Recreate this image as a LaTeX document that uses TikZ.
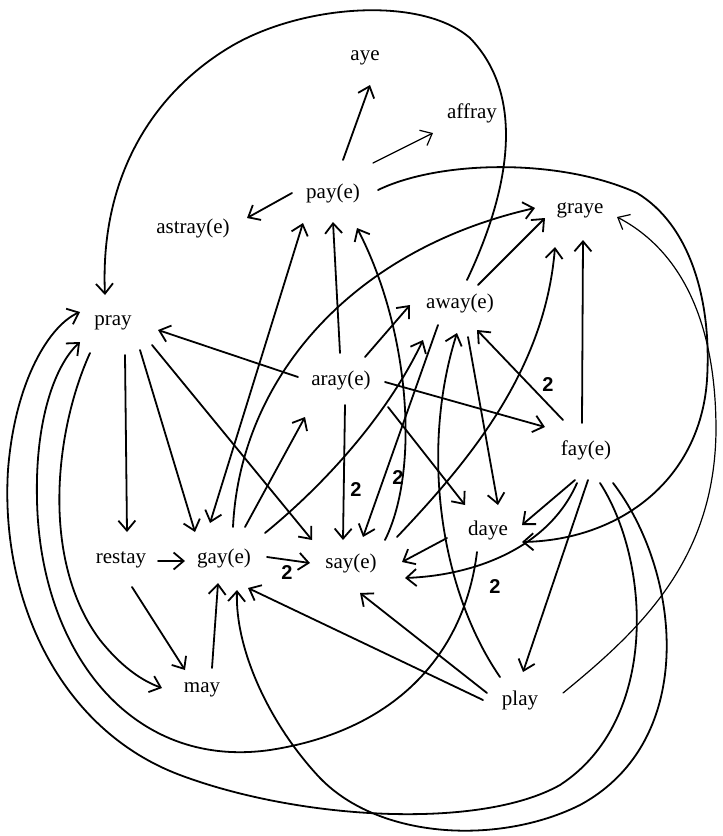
\documentclass[tikz,border=0pt]{standalone}
\usepackage{fontspec}
\setmainfont{Liberation Serif}
\newfontfamily\numfont{Liberation Sans}
\usetikzlibrary{arrows.meta}
\tikzset{
  lbl/.style={font=\fontsize{21}{24}\selectfont, inner sep=0pt},
  edge/.style={line width=1.8pt, line cap=round, -{Straight Barb[length=10pt,width=17pt]}},
  dbl/.style={line width=1.8pt, line cap=round, {Straight Barb[length=10pt,width=17pt]}-{Straight Barb[length=10pt,width=17pt]}},
  thinline/.style={line width=1.2pt},
  two/.style={font=\numfont\bfseries\fontsize{20}{22}\selectfont, inner sep=0pt}
}
\begin{document}
\begin{tikzpicture}[x=1pt,y=-1pt]
\useasboundingbox (0,0) rectangle (723,836);
% nodes
\node[lbl] (aye) at (365,58) {aye};
\node[lbl] (affray) at (472,113) {affray};
\node[lbl] (pay) at (333,193) {pay(e)};
\node[lbl] (astray) at (193,228) {astray(e)};
\node[lbl] (graye) at (580,210) {graye};
\node[lbl] (pray) at (113,323) {pray};
\node[lbl] (away) at (460,303) {away(e)};
\node[lbl] (aray) at (341,380) {aray(e)};
\node[lbl] (fay) at (586,450) {fay(e)};
\node[lbl] (daye) at (488,530) {daye};
\node[lbl] (say) at (351,563) {say(e)};
\node[lbl] (gay) at (224,558) {gay(e)};
\node[lbl] (restay) at (121,560) {restay};
\node[lbl] (may) at (202,690) {may};
\node[lbl] (play) at (520,700) {play};
% pay
\draw[edge] ([shift={(10,-33)}]pay.center) -- ([shift={(5,27)}]aye.center);
\draw[edge,thinline] ([shift={(40,-30)}]pay.center) -- ([shift={(-39,20)}]affray.center);
\draw[edge] ([shift={(-41,0)}]pay.center) -- ([shift={(54,-10)}]astray.center);
\draw[dbl] ([shift={(-14,-35)}]gay.center) -- ([shift={(-30,30)}]pay.center);
\draw[edge] ([shift={(45,-3)}]pay.center) .. controls (440,160) and (560,158) .. (637,193)
  .. controls (690,225) and (712,300) .. (707,380)
  .. controls (700,480) and (620,540) .. ([shift={(34,12)}]daye.center);
% away -> pray big arc
\draw[edge] ([shift={(7,-23)}]away.center) .. controls (505,200) and (530,100) .. (470,38)
  .. controls (420,-5) and (300,5) .. (230,47)
  .. controls (150,95) and (100,180) .. ([shift={(-8,-28)}]pray.center);
% pray
\draw[edge] ([shift={(12,32)}]pray.center) -- ([shift={(6,-28)}]restay.center);
\draw[edge] ([shift={(27,27)}]pray.center) -- ([shift={(-29,-26)}]gay.center);
\draw[edge] ([shift={(39,22)}]pray.center) -- ([shift={(-39,-23)}]say.center);
\draw[edge] ([shift={(-23,30)}]pray.center) .. controls (55,430) and (40,560) .. (100,640)
  .. controls (120,665) and (140,680) .. ([shift={(-40,-2)}]may.center);
% daye -> pray
\draw[edge] ([shift={(-11,22)}]daye.center) .. controls (465,650) and (400,730) .. (270,750)
  .. controls (130,770) and (40,650) .. (37,500)
  .. controls (35,420) and (55,365) .. ([shift={(-33,19)}]pray.center);
% fay -> pray
\draw[edge] ([shift={(14,33)}]fay.center) .. controls (650,560) and (660,720) .. (560,785)
  .. controls (480,830) and (300,820) .. (180,775)
  .. controls (60,730) and (0,600) .. (8,470)
  .. controls (15,380) and (50,325) .. ([shift={(-33,-11)}]pray.center);
% fay -> gay
\draw[edge] ([shift={(27,33)}]fay.center) .. controls (680,570) and (700,740) .. (580,805)
  .. controls (500,845) and (380,840) .. (320,778)
  .. controls (270,725) and (235,650) .. ([shift={(13,32)}]gay.center);
% play
\draw[edge,thinline] ([shift={(43,-7)}]play.center) .. controls (640,630) and (715,560) .. (716,430)
  .. controls (716,320) and (680,250) .. ([shift={(37,7)}]graye.center);
\draw[edge] ([shift={(-20,-23)}]play.center) .. controls (440,590) and (420,450) .. ([shift={(-3,30)}]away.center);
\draw[edge] ([shift={(-33,-7)}]play.center) -- ([shift={(9,30)}]say.center);
\draw[edge] ([shift={(-37,0)}]play.center) -- ([shift={(24,30)}]gay.center);
% fay
\draw[edge] ([shift={(2,30)}]fay.center) -- ([shift={(3,-28)}]play.center);
\draw[edge] ([shift={(-11,30)}]fay.center) -- ([shift={(34,-5)}]daye.center);
\draw[edge] ([shift={(-9,33)}]fay.center) .. controls (550,545) and (480,575) .. ([shift={(54,15)}]say.center);
\node[two] (t5) at (495,587) {2};
\draw[edge] ([shift={(-23,-30)}]fay.center) -- ([shift={(17,27)}]away.center);
\node[two] (t4) at (548,385) {2};
\draw[edge] ([shift={(-4,-27)}]fay.center) -- ([shift={(3,30)}]graye.center);
% daye
\draw[edge] ([shift={(-41,8)}]daye.center) -- ([shift={(51,-1)}]say.center);
% away
\draw[edge] ([shift={(8,34)}]away.center) -- ([shift={(10,-25)}]daye.center);
\draw[edge] ([shift={(18,-18)}]away.center) -- ([shift={(-35,8)}]graye.center);
\draw[edge] ([shift={(-22,22)}]away.center) -- ([shift={(12,-26)}]say.center);
\node[two] (t2) at (398,478) {2};
% aray
\draw[edge] ([shift={(47,27)}]aray.center) -- ([shift={(-23,-25)}]daye.center);
\draw[edge] ([shift={(44,2)}]aray.center) -- ([shift={(-41,-23)}]fay.center);
\draw[edge] ([shift={(24,-23)}]aray.center) -- ([shift={(-50,2)}]away.center);
\draw[edge] ([shift={(-1,-27)}]aray.center) -- ([shift={(0,29)}]pay.center);
\draw[edge] ([shift={(-43,-3)}]aray.center) -- ([shift={(45,7)}]pray.center);
\draw[edge] ([shift={(4,25)}]aray.center) -- ([shift={(-8,-23)}]say.center);
\node[two] (t1) at (356,490) {2};
% say
\draw[edge] ([shift={(34,-23)}]say.center) .. controls (420,470) and (410,330) .. ([shift={(24,35)}]pay.center);
\draw[edge] ([shift={(46,-26)}]say.center) .. controls (470,460) and (545,370) .. ([shift={(-25,37)}]graye.center);
% gay
\draw[edge] ([shift={(41,-25)}]gay.center) .. controls (330,480) and (390,410) .. ([shift={(-37,37)}]away.center);
\draw[edge] ([shift={(9,-31)}]gay.center) .. controls (240,380) and (350,250) .. ([shift={(-45,-2)}]graye.center);
\draw[edge] ([shift={(21,-31)}]gay.center) -- ([shift={(-36,37)}]aray.center);
\draw[edge] ([shift={(43,-1)}]gay.center) -- ([shift={(-41,0)}]say.center);
\node[two] (t3) at (287,573) {2};
% restay, may
\draw[edge] ([shift={(37,1)}]restay.center) -- ([shift={(-39,3)}]gay.center);
\draw[edge] ([shift={(11,27)}]restay.center) -- ([shift={(-17,-20)}]may.center);
\draw[edge] ([shift={(10,-22)}]may.center) -- ([shift={(-6,25)}]gay.center);
\end{tikzpicture}
\end{document}
